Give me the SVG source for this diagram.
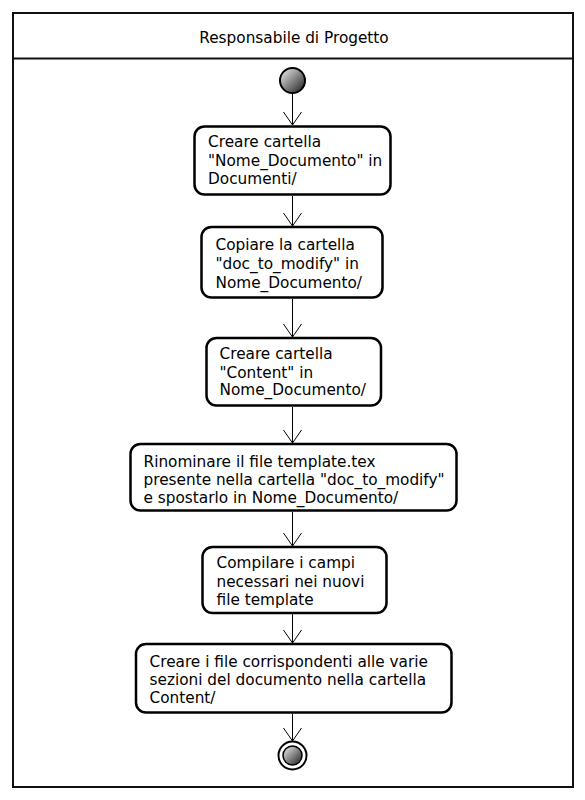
<svg xmlns="http://www.w3.org/2000/svg" width="585" height="800" viewBox="0 0 585 800">
<defs>
<linearGradient id="g" x1="0" y1="0" x2="1" y2="1">
<stop offset="0" stop-color="#f4f4f4"/>
<stop offset="1" stop-color="#1a1a1a"/>
</linearGradient>
<marker id="arr" markerWidth="20" markerHeight="20" refX="14" refY="10" orient="auto" markerUnits="userSpaceOnUse" viewBox="0 0 20 20">
<path d="M1,1 L14,10 L1,19" fill="none" stroke="#000" stroke-width="1"/>
</marker>
</defs>
<style>
.frame{fill:#fff;stroke:#111;stroke-width:2}
.box{fill:#fff;stroke:#000;stroke-width:2.5}
.t{font-family:"DejaVu Sans",Verdana,sans-serif;font-size:15.3px;fill:#000}
.c{stroke:#000;stroke-width:1;fill:none}
</style>
<rect width="585" height="800" fill="#fff"/>
<g id="lane">
<rect class="frame" x="13" y="13" width="560" height="774"/>
<line x1="13" y1="58.5" x2="573" y2="58.5" stroke="#111" stroke-width="2"/>
<text class="t" x="294" y="43" text-anchor="middle">Responsabile di Progetto</text>
</g>
<g id="connectors">
<line class="c" x1="292.5" y1="94" x2="292.5" y2="125" marker-end="url(#arr)"/>
<line class="c" x1="292.5" y1="196" x2="292.5" y2="226" marker-end="url(#arr)"/>
<line class="c" x1="292.5" y1="299" x2="292.5" y2="337" marker-end="url(#arr)"/>
<line class="c" x1="292.5" y1="407" x2="292.5" y2="443" marker-end="url(#arr)"/>
<line class="c" x1="292.5" y1="512" x2="292.5" y2="546" marker-end="url(#arr)"/>
<line class="c" x1="292.5" y1="614" x2="292.5" y2="643" marker-end="url(#arr)"/>
<line class="c" x1="292.5" y1="714" x2="292.5" y2="741" marker-end="url(#arr)"/>
</g>
<g id="start">
<circle cx="292.5" cy="80.5" r="12.5" fill="url(#g)" stroke="#000" stroke-width="2"/>
</g>
<g id="n1">
<rect class="box" x="194.5" y="126.5" width="196" height="68" rx="10"/>
<text class="t" x="208" y="147">Creare cartella</text>
<text class="t" x="208" y="166">"Nome_Documento" in</text>
<text class="t" x="208" y="184">Documenti/</text>
</g>
<g id="n2">
<rect class="box" x="201.5" y="227" width="181" height="70.5" rx="10"/>
<text class="t" x="215.5" y="250">Copiare la cartella</text>
<text class="t" x="215.5" y="269">"doc_to_modify" in</text>
<text class="t" x="215.5" y="287.5">Nome_Documento/</text>
</g>
<g id="n3">
<rect class="box" x="206.5" y="338" width="174.5" height="67.5" rx="10"/>
<text class="t" x="219.5" y="359">Creare cartella</text>
<text class="t" x="219.5" y="377.5">"Content" in</text>
<text class="t" x="219.5" y="395">Nome_Documento/</text>
</g>
<g id="n4">
<rect class="box" x="130.5" y="444" width="326" height="66.5" rx="10"/>
<text class="t" x="143.5" y="466.5">Rinominare il file template.tex</text>
<text class="t" x="143.5" y="485">presente nella cartella "doc_to_modify"</text>
<text class="t" x="143.5" y="502.5">e spostarlo in Nome_Documento/</text>
</g>
<g id="n5">
<rect class="box" x="202.5" y="547" width="184" height="66" rx="10"/>
<text class="t" x="216.5" y="568">Compilare i campi</text>
<text class="t" x="216.5" y="586.5">necessari nei nuovi</text>
<text class="t" x="216.5" y="605">file template</text>
</g>
<g id="n6">
<rect class="box" x="136" y="644" width="315.5" height="68.5" rx="10"/>
<text class="t" x="149.5" y="666.5">Creare i file corrispondenti alle varie</text>
<text class="t" x="149.5" y="684.5">sezioni del documento nella cartella</text>
<text class="t" x="149.5" y="702.5">Content/</text>
</g>
<g id="end">
<circle cx="292.5" cy="755.5" r="14" fill="#fff" stroke="#000" stroke-width="2"/>
<circle cx="292.5" cy="755.5" r="9.5" fill="url(#g)" stroke="#000" stroke-width="1.5"/>
</g>
</svg>
